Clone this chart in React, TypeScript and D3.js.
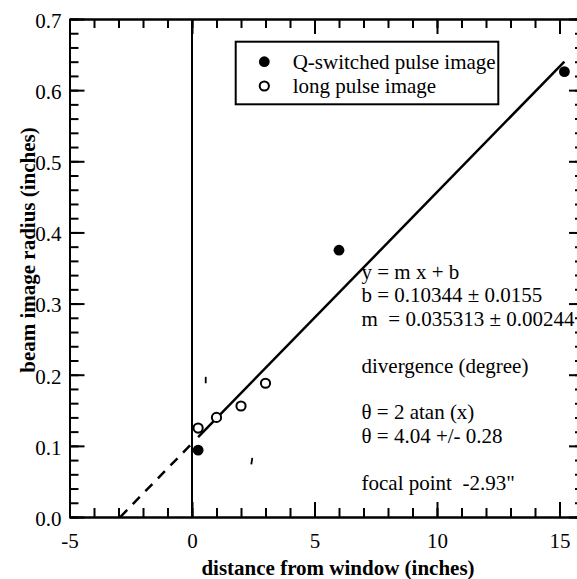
import { useEffect, useRef } from "react";
import * as d3 from "d3";

// data
const qX = [0.25, 6, 15.2];
const qY = [0.094, 0.375, 0.626];
const longX = [0.25, 1, 2, 3];
const longY = [0.125, 0.14, 0.156, 0.188];

// linear fit  y = m x + b
const slope = 0.035313;
const intercept = 0.10344;
const fitRange = [0.25, 15.2];
const extrapRange = [-2.93, 0];

// small stray marks in the original
const strayX = [0.56, 2.42];
const strayY0 = [0.188, 0.074];
const strayY1 = [0.197, 0.083];

const xMajor = [-5, 0, 5, 10, 15];
const xMinor = d3.range(-5, 16.5, 1);
const yMajor = d3.range(0, 0.75, 0.1);
const yMinor = d3.range(0, 0.71, 0.02);

const legendLabels = ["Q-switched pulse image", "long pulse image"];
const noteLines: [number, string][] = [
  [0, "y = m x + b"],
  [1, "b = 0.10344 ± 0.0155"],
  [2, "m  = 0.035313 ± 0.00244"],
  [4, "divergence (degree)"],
  [6, "θ = 2 atan (x)"],
  [7, "θ = 4.04 +/- 0.28"],
  [9, 'focal point  -2.93"'],
];

const width = 577;
const height = 579;
const font = "'Liberation Serif', 'Times New Roman', Times, serif";

function App() {
  const svgRef = useRef<SVGSVGElement>(null);

  const x = d3.scaleLinear().domain([-5, 16]).range([69.5, 584]);
  const y = d3.scaleLinear().domain([0, 0.7]).range([517, 19]);

  useEffect(() => {
    const svg = d3.select(svgRef.current);
    const g = svg.select(".axes");
    g.selectAll("*").remove();

    const add = (axis: any, tx: number, ty: number) =>
      g.append("g").attr("transform", `translate(${tx},${ty})`).call(axis);

    // minor ticks
    add(d3.axisBottom(x).tickValues(xMinor).tickSize(-9).tickSizeOuter(0).tickFormat(() => ""), 0, y(0));
    add(d3.axisTop(x).tickValues(xMinor).tickSize(-9).tickSizeOuter(0).tickFormat(() => ""), 0, y(0.7));
    add(d3.axisLeft(y).tickValues(yMinor).tickSize(-9).tickSizeOuter(0).tickFormat(() => ""), x(-5), 0);
    add(d3.axisRight(y).tickValues(yMinor).tickSize(-9).tickSizeOuter(0).tickFormat(() => ""), x(16), 0);

    // major ticks (labels on bottom and left only)
    const bottom = add(
      d3.axisBottom(x).tickValues(xMajor).tickSize(-15).tickSizeOuter(0).tickPadding(16).tickFormat((d: any) => String(d)),
      0,
      y(0)
    );
    add(d3.axisTop(x).tickValues(xMajor).tickSize(-15).tickSizeOuter(0).tickFormat(() => ""), 0, y(0.7));
    const left = add(
      d3.axisLeft(y).tickValues(yMajor).tickSize(-15).tickSizeOuter(0).tickPadding(8).tickFormat(d3.format(".1f")),
      x(-5),
      0
    );
    add(d3.axisRight(y).tickValues(yMajor).tickSize(-15).tickSizeOuter(0).tickFormat(() => ""), x(16), 0);

    g.selectAll("g").attr("font-family", font).attr("font-size", 21);
    g.selectAll("path.domain").attr("stroke", "#000").attr("stroke-width", 2);
    g.selectAll(".tick line").attr("stroke", "#000").attr("stroke-width", 2);
    g.selectAll("text")
      .attr("font-family", font)
      .attr("font-size", 21)
      .attr("fill", "#000");
    left.selectAll("text").attr("dy", "0.4em");
    bottom.selectAll("text").attr("dy", "0.71em");
  }, []);

  const fitLine = d3.line<number>().x((d) => x(d)).y((d) => y(slope * d + intercept));

  return (
    <div style={{ position: "absolute", left: 0, top: 0 }}>
      <svg ref={svgRef} width={width} height={height} style={{ fontFamily: font }}>
        <rect width={width} height={height} fill="#fff" />
        <g className="axes" />
        {/* vertical line at window */}
        <line x1={x(0)} x2={x(0)} y1={y(0)} y2={y(0.7)} stroke="#000" strokeWidth={2} />

        {/* fit and extrapolation */}
        <path d={fitLine(fitRange)!} stroke="#000" strokeWidth={2.5} fill="none" />
        <path d={fitLine(extrapRange)!} stroke="#000" strokeWidth={2.5} fill="none" strokeDasharray="10,8" />

        {strayX.map((v, i) => (
          <line key={i} x1={x(v)} x2={x(v) + i} y1={y(strayY0[i])} y2={y(strayY1[i])} stroke="#000" strokeWidth={1.8} />
        ))}

        {longX.map((v, i) => (
          <circle key={"l" + i} cx={x(v)} cy={y(longY[i])} r={4.6} fill="#fff" stroke="#000" strokeWidth={2} />
        ))}
        {qX.map((v, i) => (
          <circle key={"q" + i} cx={x(v)} cy={y(qY[i])} r={5.4} fill="#000" />
        ))}

        {/* legend */}
        <rect x={235.7} y={41.7} width={262.6} height={62.6} fill="#fff" stroke="#000" strokeWidth={2} />
        <circle cx={264.3} cy={61.7} r={5.4} fill="#000" />
        <circle cx={264.3} cy={86} r={4.6} fill="#fff" stroke="#000" strokeWidth={2} />
        {legendLabels.map((t, i) => (
          <text key={t} x={292.7} y={68.5 + i * 24.3} fontSize={21} fontFamily={font}>
            {t}
          </text>
        ))}

        {/* fit annotation */}
        {noteLines.map(([row, t]) => (
          <text key={t} x={361.5} y={279 + row * 23.4} fontSize={21} fontFamily={font} style={{ whiteSpace: "pre" }}>
            {t}
          </text>
        ))}

        {/* axis titles */}
        <text x={338} y={575} fontSize={21} fontFamily={font} fontWeight="bold" textAnchor="middle">
          distance from window (inches)
        </text>
        <text
          transform={`translate(35,250) rotate(-90)`}
          fontSize={21}
          fontFamily={font}
          fontWeight="bold"
          textAnchor="middle"
        >
          beam image radius (inches)
        </text>
      </svg>
    </div>
  );
}

export default App;
